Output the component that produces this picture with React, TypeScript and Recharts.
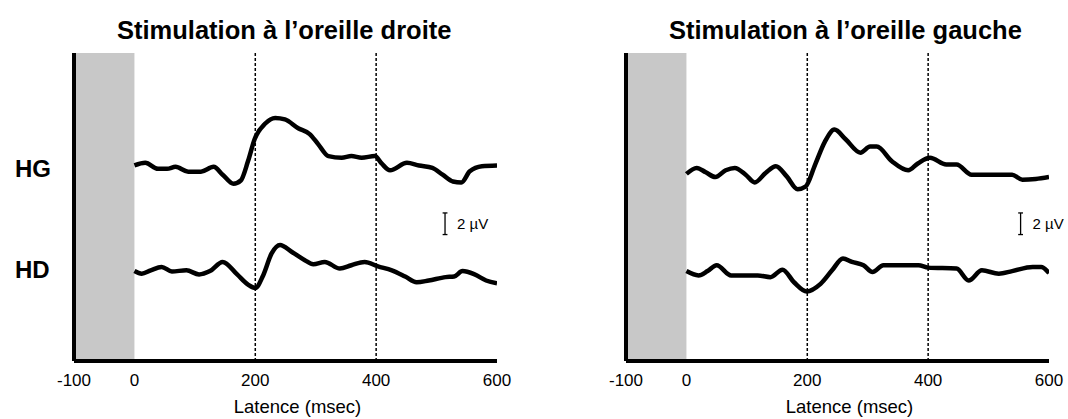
import React from "react";
import {
  LineChart,
  Line,
  XAxis,
  YAxis,
  ReferenceArea,
  ReferenceLine,
} from "recharts";

const FONT = "'Liberation Sans', Arial, Helvetica, sans-serif";

const latencyTicks = [-100, 0, 200, 400, 600];
const windowMarks = [200, 400];

// deflections in µV against latency in ms
const droiteHG = [
  { t: 0, v: 0.2 }, { t: 18, v: 0.44 }, { t: 39, v: -0.12 }, { t: 54, v: -0.12 },
  { t: 68, v: 0.07 }, { t: 89, v: -0.38 }, { t: 110, v: -0.38 }, { t: 131, v: 0.07 },
  { t: 146, v: -0.66 }, { t: 164, v: -1.5 }, { t: 176, v: -1.2 }, { t: 188, v: 0.6 },
  { t: 199, v: 2.64 }, { t: 216, v: 4.05 }, { t: 233, v: 4.59 }, { t: 249, v: 4.45 },
  { t: 271, v: 3.64 }, { t: 290, v: 3.1 }, { t: 304, v: 2.17 }, { t: 321, v: 1.06 },
  { t: 343, v: 0.91 }, { t: 359, v: 1.06 }, { t: 376, v: 0.91 }, { t: 398, v: 1.06 },
  { t: 409, v: 0.38 }, { t: 423, v: -0.25 }, { t: 451, v: 0.44 }, { t: 471, v: 0.19 },
  { t: 493, v: -0.03 }, { t: 510, v: -0.66 }, { t: 527, v: -1.29 }, { t: 541, v: -1.38 },
  { t: 555, v: -0.35 }, { t: 575, v: 0.12 }, { t: 600, v: 0.19 },
];

const droiteHD = [
  { t: 0, v: 0.12 }, { t: 12, v: -0.12 }, { t: 27, v: 0.19 }, { t: 45, v: 0.5 },
  { t: 62, v: 0.09 }, { t: 86, v: 0.19 }, { t: 107, v: -0.19 }, { t: 125, v: 0.12 },
  { t: 146, v: 0.97 }, { t: 170, v: -0.19 }, { t: 188, v: -1.13 }, { t: 200, v: -1.44 },
  { t: 213, v: -0.28 }, { t: 227, v: 1.76 }, { t: 241, v: 2.54 }, { t: 260, v: 1.91 },
  { t: 282, v: 1.13 }, { t: 296, v: 0.75 }, { t: 315, v: 0.97 }, { t: 340, v: 0.35 },
  { t: 359, v: 0.66 }, { t: 381, v: 0.97 }, { t: 403, v: 0.56 }, { t: 426, v: 0.19 },
  { t: 448, v: -0.38 }, { t: 467, v: -0.91 }, { t: 487, v: -0.75 }, { t: 515, v: -0.44 },
  { t: 529, v: -0.38 }, { t: 543, v: 0.12 }, { t: 563, v: -0.19 }, { t: 582, v: -0.75 },
  { t: 600, v: -1.0 },
];

const gaucheHG = [
  { t: 0, v: -0.59 }, { t: 17, v: -0.03 }, { t: 32, v: -0.44 }, { t: 48, v: -0.88 },
  { t: 65, v: -0.25 }, { t: 80, v: -0.03 }, { t: 98, v: -0.66 }, { t: 113, v: -1.38 },
  { t: 131, v: -0.5 }, { t: 148, v: 0.12 }, { t: 166, v: -0.82 }, { t: 184, v: -2.0 },
  { t: 197, v: -1.76 }, { t: 213, v: 0.28 }, { t: 229, v: 2.38 }, { t: 245, v: 3.51 },
  { t: 263, v: 2.64 }, { t: 288, v: 1.38 }, { t: 304, v: 1.95 }, { t: 315, v: 1.95 },
  { t: 340, v: 0.59 }, { t: 367, v: -0.25 }, { t: 383, v: 0.38 }, { t: 403, v: 0.91 },
  { t: 430, v: 0.28 }, { t: 447, v: 0.28 }, { t: 472, v: -0.66 }, { t: 494, v: -0.66 },
  { t: 539, v: -0.66 }, { t: 556, v: -1.13 }, { t: 578, v: -1.06 }, { t: 600, v: -0.88 },
];

const gaucheHD = [
  { t: 0, v: 0.12 }, { t: 20, v: -0.28 }, { t: 35, v: 0.12 }, { t: 50, v: 0.66 },
  { t: 74, v: -0.28 }, { t: 118, v: -0.28 }, { t: 139, v: -0.44 }, { t: 159, v: 0.25 },
  { t: 178, v: -0.91 }, { t: 199, v: -1.76 }, { t: 222, v: -1.06 }, { t: 241, v: 0.19 },
  { t: 259, v: 1.29 }, { t: 274, v: 0.97 }, { t: 293, v: 0.66 }, { t: 308, v: 0.03 },
  { t: 326, v: 0.66 }, { t: 384, v: 0.66 }, { t: 400, v: 0.44 }, { t: 447, v: 0.35 },
  { t: 467, v: -0.75 }, { t: 489, v: 0.19 }, { t: 517, v: -0.12 }, { t: 539, v: 0.12 },
  { t: 573, v: 0.5 }, { t: 587, v: 0.5 }, { t: 600, v: -0.07 },
];

// vertical offsets of the two traces and the calibration bar (µV)
const Y_MAX = 28.5;
const HG_BASE = 17.9;
const HD_BASE = 8.2;
const BAR_BASE = 11.7;
const BAR_SPAN = 2;

type Pt = { t: number; v: number };
const shift = (pts: Pt[], base: number) =>
  pts.map((p) => ({ t: p.t, v: p.v + base }));

type PanelProps = {
  title: string;
  hg: Pt[];
  hd: Pt[];
  left: number;
  width: number;
  barAt: number;
};

const traceProps = {
  dataKey: "v",
  type: "monotone" as const,
  stroke: "#000",
  strokeWidth: 4.5,
  strokeLinejoin: "round" as const,
  dot: false,
  activeDot: false,
  isAnimationActive: false,
};

const Panel = ({ title, hg, hd, left, width, barAt }: PanelProps) => (
  <div style={{ position: "absolute", left, top: 0, width, height: 419 }}>
    <div
      style={{
        position: "absolute",
        left: 117,
        top: 17,
        fontFamily: FONT,
        fontWeight: "bold",
        fontSize: 25.5,
        lineHeight: "26px",
        whiteSpace: "nowrap",
      }}
    >
      {title}
    </div>
    <LineChart
      width={width}
      height={419}
      margin={{ top: 53, right: width - 497, left: 74, bottom: 0 }}
    >
      <XAxis
        type="number"
        dataKey="t"
        domain={[-100, 600]}
        ticks={latencyTicks}
        allowDataOverflow
        height={58}
        tickLine={false}
        tickSize={6}
        tickMargin={7}
        axisLine={false}
        tick={{ fill: "#000", fontSize: 17, fontFamily: FONT }}
        label={{
          content: ({ viewBox }: any) => (
            <text
              x={viewBox.x + viewBox.width / 2 + 12}
              y={viewBox.y + viewBox.height - 6}
              textAnchor="middle"
              fill="#000"
              fontSize={18.5}
              fontFamily={FONT}
            >
              Latence (msec)
            </text>
          ),
        }}
      />
      <YAxis
        type="number"
        domain={[0, Y_MAX]}
        width={0}
        tick={false}
        tickLine={false}
        axisLine={false}
      />
      <ReferenceArea x1={-100} x2={0} fill="#c8c8c8" fillOpacity={1} stroke="none" />
      {windowMarks.map((m) => (
        <ReferenceLine
          key={m}
          x={m}
          stroke="#000"
          strokeWidth={1.5}
          strokeDasharray="3 2"
        />
      ))}
      {/* heavy axis frame */}
      <ReferenceLine x={-100} stroke="#000" strokeWidth={4} />
      <ReferenceLine y={0} stroke="#000" strokeWidth={4} />
      <ReferenceLine
        segment={[
          { x: barAt, y: BAR_BASE },
          { x: barAt, y: BAR_BASE + BAR_SPAN },
        ]}
        stroke="#000"
        strokeWidth={1.3}
        label={{
          content: ({ viewBox }: any) => (
            <text
              x={viewBox.x + 12}
              y={viewBox.y + viewBox.height / 2 + 5.5}
              fill="#000"
              fontSize={15}
              fontFamily={FONT}
            >
              2 µV
            </text>
          ),
        }}
      />
      <ReferenceLine
        segment={[
          { x: barAt - 4, y: BAR_BASE },
          { x: barAt + 4, y: BAR_BASE },
        ]}
        stroke="#000"
        strokeWidth={1.3}
      />
      <ReferenceLine
        segment={[
          { x: barAt - 4, y: BAR_BASE + BAR_SPAN },
          { x: barAt + 4, y: BAR_BASE + BAR_SPAN },
        ]}
        stroke="#000"
        strokeWidth={1.3}
      />
      <Line data={shift(hg, HG_BASE)} {...traceProps} />
      <Line data={shift(hd, HD_BASE)} {...traceProps} />
    </LineChart>
  </div>
);

const sideLabel = (top: number): React.CSSProperties => ({
  position: "absolute",
  left: 15,
  top,
  fontFamily: FONT,
  fontWeight: "bold",
  fontSize: 24,
  lineHeight: "24px",
});

export default function App() {
  return (
    <div
      style={{
        position: "absolute",
        left: 0,
        top: 0,
        width: 1068,
        height: 419,
        background: "#fff",
      }}
    >
      <div style={sideLabel(157)}>HG</div>
      <div style={sideLabel(258)}>HD</div>
      <Panel
        title="Stimulation à l’oreille droite"
        hg={droiteHG}
        hd={droiteHD}
        left={0}
        width={534}
        barAt={514}
      />
      <Panel
        title="Stimulation à l’oreille gauche"
        hg={gaucheHG}
        hd={gaucheHD}
        left={552}
        width={516}
        barAt={553}
      />
    </div>
  );
}
